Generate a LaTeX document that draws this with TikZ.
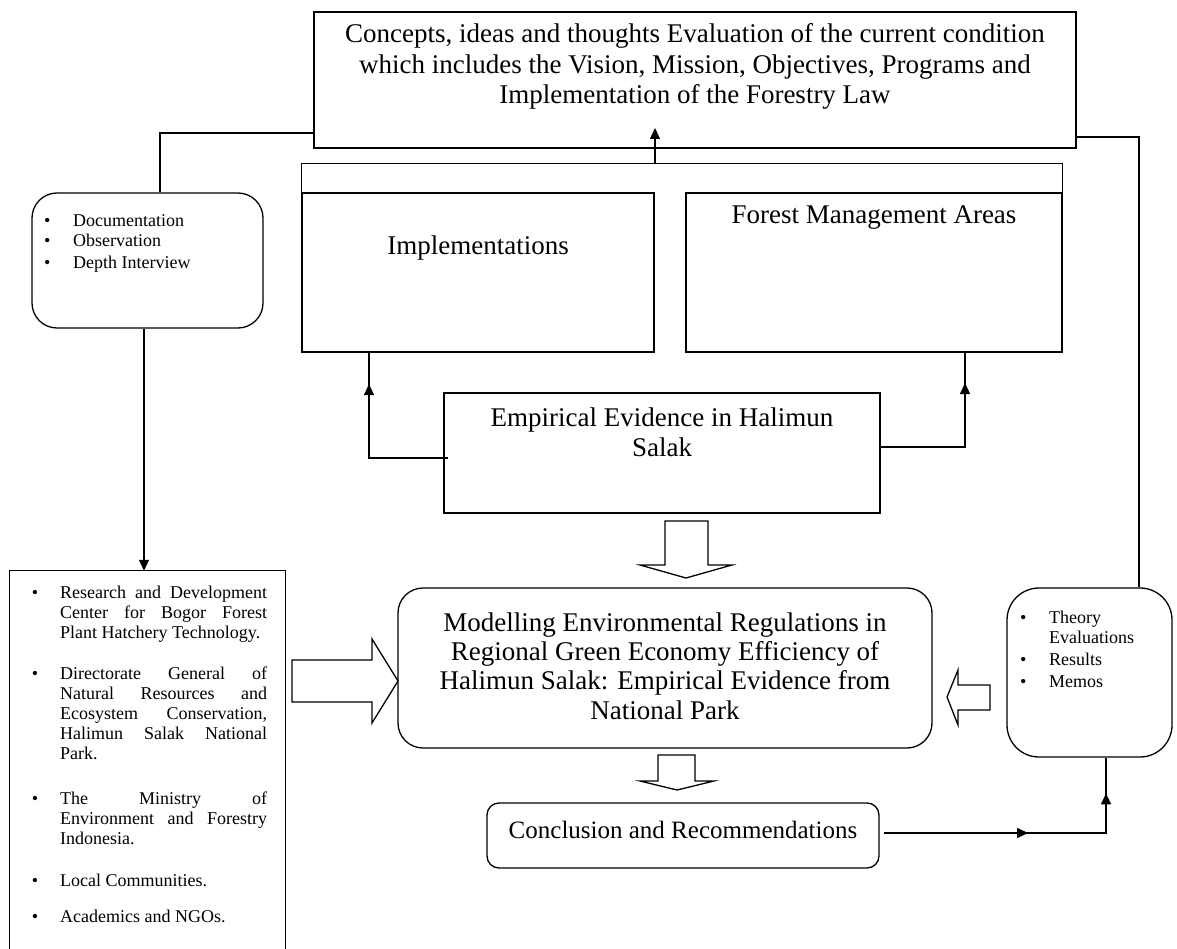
\documentclass[tikz,border=0pt]{standalone}
\usepackage{fontspec}
\setmainfont{Liberation Serif}
\usetikzlibrary{arrows.meta,decorations.markings}
\hbadness=10000
\begin{document}
\begin{tikzpicture}[x=1pt,y=-1pt,
  ln/.style={line width=1.3pt},
  box/.style={draw, ln, inner sep=0pt},
  tri/.style={-{Triangle[length=11pt,width=10pt]}},
  midarr/.style={postaction={decorate,decoration={markings,mark=at position #1 with {\arrow{Triangle[length=11pt,width=10pt]}}}}},
  big/.style={font=\fontsize{27}{30.5}\selectfont, align=center, inner sep=0pt},
  small/.style={font=\fontsize{18}{20}\selectfont, inner sep=0pt},
  hollow/.style={draw, ln, fill=white, line join=miter}]
\useasboundingbox (0,0) rectangle (1177,949);

% boxes
\node[box, minimum width=762, minimum height=136] (topbox) at (695,80) {};
\node[inner sep=0pt, minimum width=760, minimum height=29] (hdr) at (682,178.5) {};
\draw[ln] (hdr.south west) -- (hdr.north west) -- (hdr.north east) -- (hdr.south east);
\node[box, minimum width=352, minimum height=159] (impl) at (478,272.5) {};
\node[box, minimum width=376, minimum height=159] (forest) at (874,272.5) {};
\node[box, minimum width=436, minimum height=120] (emp) at (662,453) {};
\node[box, rounded corners=25pt, minimum width=534, minimum height=160] (model) at (665,668) {};
\node[box, rounded corners=12pt, minimum width=392, minimum height=65] (conc) at (683,835.5) {};
\node[box, rounded corners=25pt, minimum width=231, minimum height=135] (docbox) at (147.5,260.5) {};
\node[inner sep=0pt, minimum width=275, minimum height=378] (src) at (147.5,760) {};
\draw[ln] (src.south west) -- (src.north west) -- (src.north east) -- (src.south east);
\node[box, rounded corners=32pt, minimum width=165, minimum height=169] (rbox) at (1089.5,672.5) {};

% texts
\node[big] (toptext) at (695,66.5) {Concepts, ideas and thoughts Evaluation of the current condition\\which includes the Vision, Mission, Objectives, Programs and\\Implementation of the Forestry Law};
\node[big] (impltext) at (478,248) {Implementations};
\node[big] (foresttext) at (874,218) {Forest Management Areas};
\node[big] (emptext) at (662,432.5) {Empirical Evidence in Halimun\\Salak};
\node[big, font=\fontsize{27}{29.3}\selectfont] (modeltext) at (665,666) {Modelling Environmental Regulations in\\Regional Green Economy Efficiency of\\Halimun Salak: Empirical Evidence from\\National Park};
\node[big, font=\fontsize{25}{29}\selectfont] (conctext) at (683,830) {Conclusion and Recommendations};

% doc list
\node[small, anchor=base west] (d1) at (44,227) {\makebox[29pt][l]{\textbullet}Documentation};
\node[small, anchor=base west] (d2) at (44,247) {\makebox[29pt][l]{\textbullet}Observation};
\node[small, anchor=base west] (d3) at (44,269) {\makebox[29pt][l]{\textbullet}Depth Interview};

% right list
\node[small, anchor=base west] (r1) at (1020,623) {\makebox[29pt][l]{\textbullet}Theory};
\node[small, anchor=base west] (r1b) at (1049,643) {Evaluations};
\node[small, anchor=base west] (r2) at (1020,665) {\makebox[29pt][l]{\textbullet}Results};
\node[small, anchor=base west] (r3) at (1020,687) {\makebox[29pt][l]{\textbullet}Memos};

% source list
\tikzset{item/.style={small, anchor=base west, text width=207pt, align=justify}}
\node[item] (s1) at (60,598) {\noindent\llap{\textbullet\hspace{22pt}}Research and Development\linebreak Center for Bogor Forest\linebreak Plant Hatchery Technology.};
\node[item] (s2) at (60,679) {\noindent\llap{\textbullet\hspace{22pt}}Directorate General of\linebreak Natural Resources and\linebreak Ecosystem Conservation,\linebreak Halimun Salak National\linebreak Park.};
\node[item] (s3) at (60,804) {\noindent\llap{\textbullet\hspace{22pt}}The Ministry of\linebreak Environment and Forestry\linebreak Indonesia.};
\node[item] (s4) at (60,886) {\noindent\llap{\textbullet\hspace{22pt}}Local Communities.};
\node[item] (s5) at (60,922) {\noindent\llap{\textbullet\hspace{22pt}}Academics and NGOs.};

% hollow arrows
\draw[hollow] (665,521) -- (708,521) -- (708,565) -- (732,565) -- (686,578) -- (640,565) -- (665,565) -- cycle;
\draw[hollow] (658,755) -- (695,755) -- (695,781) -- (714,781) -- (677,790) -- (640,781) -- (658,781) -- cycle;
\draw[hollow] (292,660) -- (372,660) -- (372,639) -- (398,681) -- (372,723) -- (372,702) -- (292,702) -- cycle;
\draw[hollow] (990,685) -- (958,685) -- (958,670) -- (947,697) -- (958,725) -- (958,710) -- (990,710) -- cycle;

% connectors
\coordinate (tl) at (160,133);
\draw[ln] (topbox.west |- tl) -- (tl) -- (tl |- docbox.north);
\coordinate (tr) at (1139,137);
\draw[ln] (topbox.east |- tr) -- (tr) -- (tr |- rbox.north);
\coordinate (dl) at (144,0);
\draw[ln,tri] (dl |- docbox.south) -- (dl |- src.north);
\coordinate (up) at (655,128);
\draw[ln,tri] (up |- hdr.north) -- (up);
\coordinate (el) at (369,458);
\draw[ln,midarr=0.83] ([xshift=5pt]emp.west |- el) -- (el) -- (el |- impl.south);
\coordinate (er) at (965,447);
\draw[ln,midarr=0.83] (emp.east |- er) -- (er) -- (er |- forest.south);
\coordinate (cr) at (1106,833);
\draw[ln,midarr=0.485,midarr=0.88] ([xshift=4pt]conc.east |- cr) -- (cr) -- (cr |- rbox.south);
\end{tikzpicture}
\end{document}
